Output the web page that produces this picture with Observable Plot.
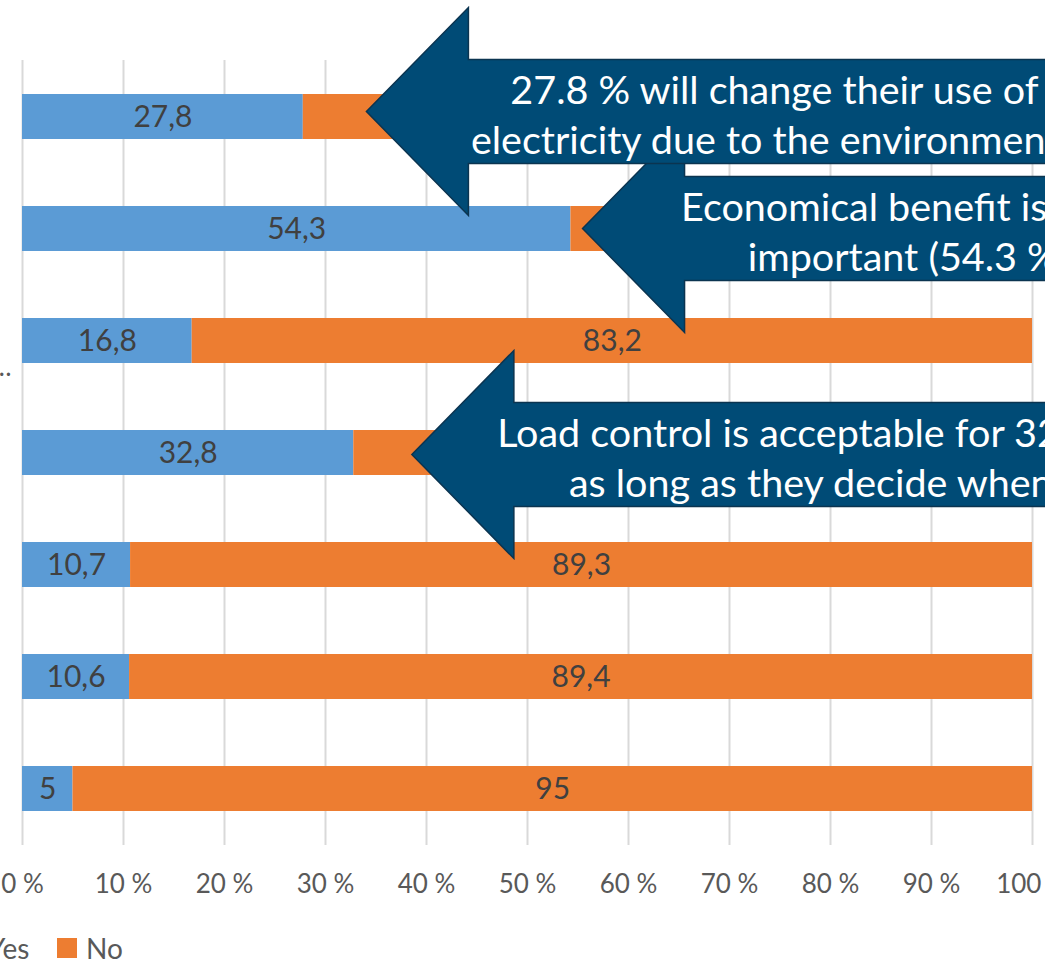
<!DOCTYPE html>
<html>
<head>
<meta charset="utf-8">
<script src="https://cdn.jsdelivr.net/npm/d3@7"></script>
<script src="https://cdn.jsdelivr.net/npm/@observablehq/plot@0.6"></script>
<style>
  html, body { margin: 0; padding: 0; background: #fff; overflow: hidden; }
  body { width: 1045px; height: 963px; position: relative; font-family: Lato, "Open Sans", sans-serif; }
  #chart svg { display: block; overflow: visible; }
  #legend { position: relative; height: 63px; font-family: Lato, sans-serif; font-size: 28px; color: #595959; }
  #legend .item { position: absolute; top: 31px; display: flex; align-items: center; white-space: nowrap; }
  #legend .sw { width: 20px; height: 20px; margin-right: 9px; }
</style>
</head>
<body>
<div id="chart"></div>
<div id="legend"></div>
<script>
// ---- data ----
const categories = ["Q1", "Q2", "Q3", "Q4", "Q5", "Q6", "Q7"];
const yesValues = [27.8, 54.3, 16.8, 32.8, 10.7, 10.6, 5];
const noValues  = [72.2, 45.7, 83.2, 67.2, 89.3, 89.4, 95];
const seriesNames = ["Yes", "No"];
const seriesColors = ["#5B9BD5", "#ED7D31"];
const xTicks = [0, 10, 20, 30, 40, 50, 60, 70, 80, 90, 100];

// callout arrows: row they point at, x value (%) of the tip, text lines
const arrowRows = ["Q1", "Q2", "Q4"];
const arrowTips = [34.1, 55.5, 38.6];
const arrowLines = [
  ["27.8 % will change their use of", "electricity due to the environment"],
  ["Economical benefit is", "important (54.3 %)"],
  ["Load control is acceptable for 32.8 %", "as long as they decide when"]
];
const arrowTextStart = [[48.3, 44.4], [65.2, 71.8], [47.0, 54.1]];

// ---- build table ----
const table = [];
categories.forEach((c, i) => {
  table.push({cat: c, series: "Yes", value: yesValues[i]});
  table.push({cat: c, series: "No", value: noValues[i]});
});
const fmt = v => String(v).replace(".", ",");

// style constants (pixels)
const arrowDy = [-5, 0, 2];
const headLen = 102, headHalf = 104, shaftHalf = 52;
const arrowFill = "#004B76", arrowStroke = "#0B3450";

function arrowsMark(index, scales) {
  const {x, y} = scales;
  const bw = typeof y.bandwidth === "function" ? y.bandwidth() : y.bandwidth;
  const g = d3.create("svg:g");
  const order = [1, 0, 2];
  for (const i of order) {
    const cy = y(arrowRows[i]) + bw / 2 + arrowDy[i];
    const tip = x(arrowTips[i]);
    const back = tip + headLen;
    const end = x(130);
    const pts = [[tip, cy], [back, cy - headHalf], [back, cy - shaftHalf], [end, cy - shaftHalf],
                 [end, cy + shaftHalf], [back, cy + shaftHalf], [back, cy + headHalf]];
    g.append("path")
      .attr("d", "M" + pts.map(p => p.join(",")).join("L") + "Z")
      .attr("fill", arrowFill)
      .attr("stroke", arrowStroke)
      .attr("stroke-width", 1.5)
      .attr("stroke-linejoin", "miter");
  }
  return g.node();
}

const textRows = [];
arrowRows.forEach((r, i) => {
  arrowLines[i].forEach((t, j) => {
    textRows.push({cat: r, text: t, x: arrowTextStart[i][j], dy: arrowDy[i] + (j === 0 ? -21 : 29)});
  });
});

const plot = Plot.plot({
  width: 1045,
  height: 900,
  marginTop: 60,
  marginBottom: 55,
  marginLeft: 22,
  marginRight: 13,
  style: {fontFamily: "Lato, sans-serif", fontSize: "26px", color: "#595959", background: "#fff"},
  x: {domain: [0, 100]},
  y: {type: "band", domain: categories, paddingInner: 0.6, paddingOuter: 0.3, axis: null},
  color: {domain: seriesNames, range: seriesColors},
  marks: [
    Plot.ruleX(xTicks, {stroke: "#D9D9D9", strokeWidth: 2}),
    Plot.axisX({ticks: xTicks, tickFormat: d => d + " %", tickSize: 0, tickPadding: 29, fontSize: 26, fill: "#595959"}),
    Plot.barX(table, Plot.stackX({x: "value", y: "cat", fill: "series"})),
    Plot.text(table, Plot.stackX({x: "value", y: "cat", z: "series", text: d => fmt(d.value), fill: "#404040", fontSize: 30})),
    Plot.text([categories[2]], {x: 0, y: d => d, text: () => "…", dx: -11, dy: 27, textAnchor: "end", fill: "#595959", fontSize: 26}),
    arrowsMark,
    ...textRows.map(r => Plot.text([r], {x: "x", y: "cat", text: "text", dy: r.dy, textAnchor: "start", fill: "#fff", fontSize: 39.5}))
  ]
});
document.getElementById("chart").appendChild(plot);

// legend
const legend = document.getElementById("legend");
const legendLeft = [-41, 57];
seriesNames.forEach((s, i) => {
  const it = document.createElement("div");
  it.className = "item";
  it.style.left = legendLeft[i] + "px";
  const sw = document.createElement("div");
  sw.className = "sw";
  sw.style.background = seriesColors[i];
  const lab = document.createElement("span");
  lab.textContent = s;
  it.appendChild(sw);
  it.appendChild(lab);
  legend.appendChild(it);
});
</script>
</body>
</html>
